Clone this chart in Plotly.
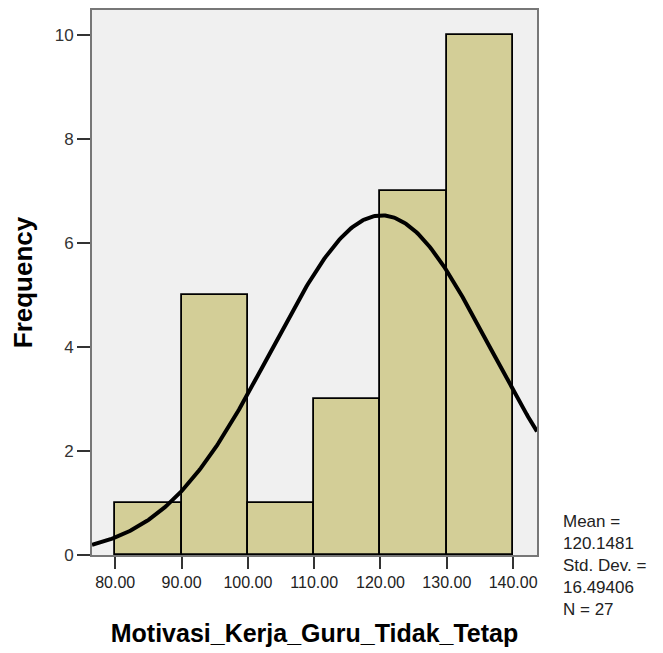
import numpy as np
import plotly.graph_objects as go

bin_starts = [80, 90, 100, 110, 120, 130]
counts = [1, 5, 1, 3, 7, 10]
bin_width = 10
mean = 120.1481
std = 16.49406
n = 27
x_ticks = [80, 90, 100, 110, 120, 130, 140]
x_tick_labels = ["80.00", "90.00", "100.00", "110.00", "120.00", "130.00", "140.00"]
y_ticks = [0, 2, 4, 6, 8, 10]

x_range = [76.5, 143.6]
y_range = [0, 10.48]

centers = [s + bin_width / 2 for s in bin_starts]

xs = np.linspace(x_range[0], x_range[1], 300)
ys = n * bin_width * np.exp(-0.5 * ((xs - mean) / std) ** 2) / (std * np.sqrt(2 * np.pi))

fig = go.Figure()
fig.add_trace(go.Bar(
    x=centers, y=counts, width=bin_width,
    marker=dict(color="#D3CE97", line=dict(color="black", width=1.8)),
    hoverinfo="x+y",
))
fig.add_trace(go.Scatter(
    x=xs, y=ys, mode="lines",
    line=dict(color="black", width=4),
    hoverinfo="skip",
))

font_family = "Liberation Sans, Arial, sans-serif"
fig.update_layout(
    width=655, height=645,
    margin=dict(l=84, r=126, t=2, b=98),
    paper_bgcolor="white",
    plot_bgcolor="#F0F0F0",
    showlegend=False,
    bargap=0,
    font=dict(family=font_family, size=16, color="black"),
    xaxis=dict(
        range=x_range, tickvals=x_ticks, ticktext=x_tick_labels,
        ticks="outside", ticklen=12, tickwidth=2, tickcolor="#333",
        showgrid=False, zeroline=False,
        showline=True, linecolor="#777", linewidth=2, mirror=True,
        tickfont=dict(size=16, color="#222"),
        automargin=False,
        title=dict(text="<b>Motivasi_Kerja_Guru_Tidak_Tetap</b>",
                   font=dict(size=25, color="black"), standoff=34),
    ),
    yaxis=dict(
        range=y_range, tickvals=y_ticks,
        ticks="outside", ticklen=13, tickwidth=2, tickcolor="#333",
        showgrid=False, zeroline=False,
        showline=True, linecolor="#777", linewidth=2, mirror=True,
        tickfont=dict(size=17, color="#333"),
        automargin=False,
        title=dict(text="<b>Frequency</b>", font=dict(size=26, color="black"), standoff=17),
    ),
    annotations=[dict(
        xref="paper", yref="paper", x=1.0, y=0.0, xshift=24, yshift=45,
        xanchor="left", yanchor="top", align="left", showarrow=False,
        text=f"Mean =<br>{mean:.4f}<br>Std. Dev. =<br>{std:.5f}<br>N = {n}",
        font=dict(size=17, color="#222"),
    )],
)

fig.write_html("out.html")
